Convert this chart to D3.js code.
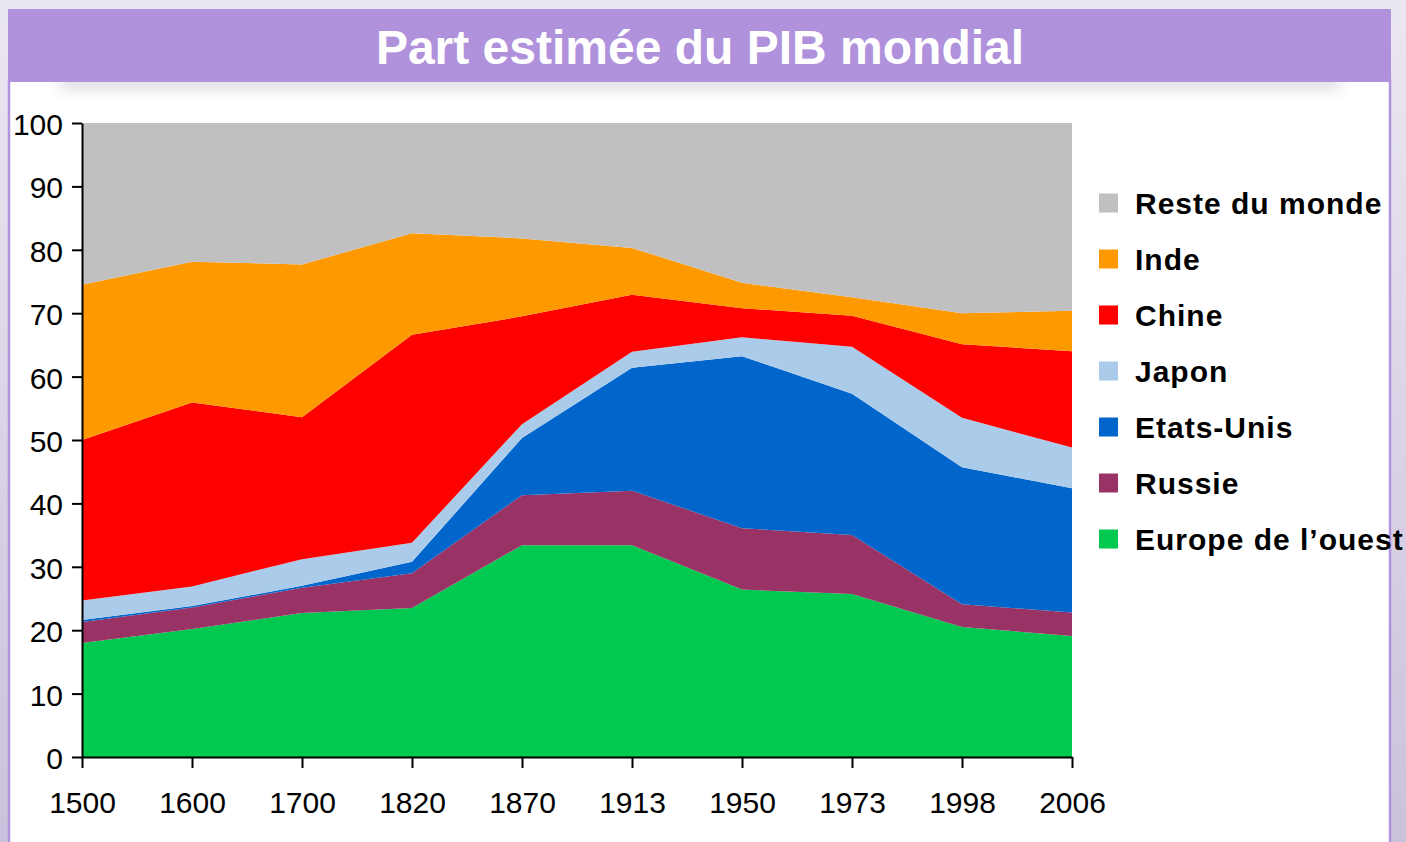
<!DOCTYPE html>
<html>
<head>
<meta charset="utf-8">
<script src="https://cdn.jsdelivr.net/npm/d3@7"></script>
<style>
  body { margin: 0; background: #ffffff; }
  svg { display: block; }
</style>
</head>
<body>
<div id="chart"></div>
<script>
// données (part en % du PIB mondial)
const years = ["1500", "1600", "1700", "1820", "1870", "1913", "1950", "1973", "1998", "2006"];
const europe    = [18.0, 20.2, 22.7, 23.5, 33.4, 33.4, 26.4, 25.7, 20.5, 19.1];
const russie    = [3.3, 3.4, 4.0, 5.5, 7.9, 8.6, 9.7, 9.3, 3.6, 3.7];
const etatsUnis = [0.3, 0.2, 0.3, 1.8, 9.0, 19.4, 27.1, 22.3, 21.6, 19.6];
const japon     = [3.1, 3.1, 4.2, 3.0, 2.2, 2.5, 3.0, 7.4, 7.8, 6.4];
const chine     = [25.3, 29.0, 22.4, 32.8, 17.0, 9.0, 4.6, 4.9, 11.6, 15.2];
const inde      = [24.5, 22.2, 24.1, 16.0, 12.3, 7.4, 4.0, 2.9, 4.9, 6.4];
const reste     = [25.5, 21.9, 22.3, 17.4, 18.2, 19.7, 25.2, 27.5, 30.0, 29.6];
const yTicks = [0, 10, 20, 30, 40, 50, 60, 70, 80, 90, 100];

// de bas en haut
const series = [
  { key: "Europe de l’ouest", values: europe,    color: "#00c850" },
  { key: "Russie",            values: russie,    color: "#993366" },
  { key: "Etats-Unis",        values: etatsUnis, color: "#0066cc" },
  { key: "Japon",             values: japon,     color: "#aacbe9" },
  { key: "Chine",             values: chine,     color: "#ff0000" },
  { key: "Inde",              values: inde,      color: "#ff9900" },
  { key: "Reste du monde",    values: reste,     color: "#c0c0c0" }
];

const width = 1406, height = 842;
const font = "'Liberation Sans', Arial, sans-serif";

const svg = d3.select("#chart").append("svg")
  .attr("width", width).attr("height", height)
  .style("font-family", font);

const defs = svg.append("defs");
const bg = defs.append("linearGradient").attr("id", "bg").attr("x1", 0).attr("y1", 0).attr("x2", 0).attr("y2", 1);
bg.append("stop").attr("offset", "0%").attr("stop-color", "#ebe7f1");
bg.append("stop").attr("offset", "100%").attr("stop-color", "#cbc1dc");
defs.append("filter").attr("id", "blur")
  .attr("x", "-10%").attr("y", "-100%").attr("width", "120%").attr("height", "300%")
  .append("feGaussianBlur").attr("stdDeviation", 8);

// fond de la diapo
svg.append("rect").attr("width", width).attr("height", height).attr("fill", "url(#bg)");

// panneau blanc
svg.append("rect")
  .attr("x", 9).attr("y", 80).attr("width", 1381).attr("height", 780)
  .attr("fill", "#ffffff").attr("stroke", "#b393e0").attr("stroke-width", 2.5);

// ombre sous le bandeau
svg.append("rect")
  .attr("x", 60).attr("y", 74).attr("width", 1280).attr("height", 14)
  .attr("fill", "#d6d6d6")
  .attr("filter", "url(#blur)");

// bandeau titre
svg.append("rect")
  .attr("x", 8).attr("y", 9).attr("width", 1383).attr("height", 73)
  .attr("fill", "#b092dc");
svg.append("text")
  .attr("x", 700).attr("y", 64)
  .attr("text-anchor", "middle")
  .attr("fill", "#ffffff")
  .style("font-size", "48px").style("font-weight", "bold")
  .text("Part estimée du PIB mondial");

// échelles
const x = d3.scalePoint().domain(years).range([82, 1072]);
const y = d3.scaleLinear().domain([0, 100]).range([757, 123]);

const table = years.map((yr, i) => {
  const row = { year: yr };
  series.forEach(s => { row[s.key] = s.values[i]; });
  return row;
});
const stacked = d3.stack().keys(series.map(s => s.key))(table);

const area = d3.area()
  .x(d => x(d.data.year))
  .y0(d => y(d[0]))
  .y1(d => y(d[1]));

svg.append("g")
  .selectAll("path")
  .data(stacked)
  .join("path")
  .attr("fill", (d, i) => series[i].color)
  .attr("d", area);

// axes
const yAxis = svg.append("g")
  .attr("transform", "translate(82,0)")
  .call(d3.axisLeft(y).tickValues(yTicks).tickSize(10).tickSizeOuter(0).tickPadding(9));
const xAxis = svg.append("g")
  .attr("transform", "translate(0,757)")
  .call(d3.axisBottom(x).tickSize(11).tickSizeOuter(0).tickPadding(24));

[yAxis, xAxis].forEach(g => {
  g.selectAll("path, line").attr("stroke", "#000").attr("stroke-width", 2);
  g.selectAll("text")
    .attr("fill", "#000")
    .style("font-size", "30px")
    .style("font-family", font);
});
yAxis.selectAll("text").attr("dy", "0.38em");

// légende
const legend = svg.append("g")
  .selectAll("g")
  .data(series.slice().reverse())
  .join("g")
  .attr("transform", (d, i) => `translate(1099,${203 + i * 56})`);

legend.append("rect")
  .attr("x", 0).attr("y", -9.5)
  .attr("width", 19).attr("height", 19)
  .attr("fill", d => d.color);

legend.append("text")
  .attr("x", 36).attr("y", 10.5)
  .attr("fill", "#000")
  .style("font-size", "30px").style("font-weight", "bold")
  .style("letter-spacing", "1px")
  .text(d => d.key);
</script>
</body>
</html>
